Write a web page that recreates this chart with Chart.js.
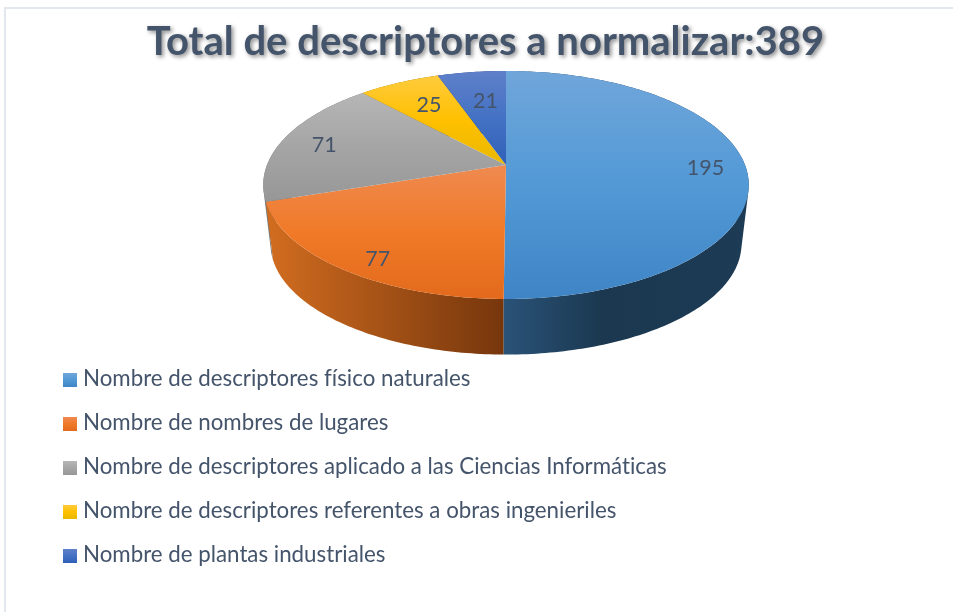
<!DOCTYPE html>
<html>
<head>
<meta charset="utf-8">
<title>Total de descriptores</title>
<script src="https://cdn.jsdelivr.net/npm/chart.js@4"></script>
<style>
  html, body { margin: 0; background: #fff; overflow: hidden; }
  #wrap { position: relative; width: 953px; height: 612px; }
  #frame { position: absolute; left: 4px; top: 7px; right: 0; bottom: 0; border-left: 2px solid #e3e8ef; border-top: 2px solid #e3e8ef; }
  canvas { position: absolute; left: 0; top: 0; }
  #legend { position: absolute; left: 63px; top: 356px; margin: 0; padding: 0; list-style: none;
    font: 22.3px Lato, sans-serif; font-variant-ligatures: none; color: #44546a; }
  #legend li { height: 44px; line-height: 44px; white-space: nowrap; }
  #legend i { display: inline-block; width: 14px; height: 14px; margin-right: 6px; vertical-align: -1px; }
</style>
</head>
<body>
<div id="wrap">
  <div id="frame"></div>
  <canvas id="pie" width="953" height="612"></canvas>
  <ul id="legend"></ul>
</div>
<script>
// datos
var categorias = [
  'Nombre de descriptores físico naturales',
  'Nombre de nombres de lugares',
  'Nombre de descriptores aplicado a las Ciencias Informáticas',
  'Nombre de descriptores referentes a obras ingenieriles',
  'Nombre de plantas industriales'
];
var valores = [195, 77, 71, 25, 21];
var titulo = 'Total de descriptores a normalizar:389';

// colores: cara superior (arriba, medio, abajo) y pared lateral (izquierda, derecha)
var colorBase = ['#5b9bd5', '#ed7d31', '#a5a5a5', '#ffc000', '#4472c4'];
var colorCara = [
  ['#70a6da', '#5299d6', '#3f85c6'],
  ['#ef8a50', '#f07a28', '#e36a1c'],
  ['#b6b6b6', '#a5a5a5', '#979797'],
  ['#ffcb3d', '#ffc000', '#e9b800'],
  ['#5f80c9', '#4472c4', '#2f5fb8']
];
var colorPared = [
  ['#2a5378', '#1b3850'],
  ['#d26d20', '#76360c'],
  ['#777777', '#666666'],
  ['#a07800', '#8f6b00'],
  ['#2a4a85', '#223c70']
];
// colocacion de las etiquetas de valor
var radioEtiqueta = [0.83, 0.84, 0.8, 0.7, 0.68];
var ajusteX = [1, 6, -3, 1, 4];
var ajusteY = [3, 9, 2, 0, 2];

// proyeccion en perspectiva del disco unidad a la pagina
var cx = 506, apiceY = 165, radio = 239, a = 81.55, k = -0.1754;
function proyecta(x, y) {
  var w = 1 + k * y;
  return { x: cx + radio * x / w, y: (a * y + apiceY) / w };
}
// el borde inferior de la pared es el mismo contorno, algo mas pequeño y bajado
function baja(p) {
  return { x: cx + (p.x - cx) * 0.97, y: 244 + (p.y - 185) * 0.97 };
}
function contorno(ini, fin) {
  var pts = [], n = Math.max(4, Math.ceil((fin - ini) * 60));
  for (var i = 0; i <= n; i++) {
    var t = ini + (fin - ini) * i / n;
    pts.push(proyecta(Math.cos(t), Math.sin(t)));
  }
  return pts;
}

var pie3d = {
  id: 'pie3d',
  beforeDraw: function (chart) {
    // sombra del titulo
    var ctx = chart.ctx;
    ctx.shadowColor = 'rgba(0,0,0,0.45)';
    ctx.shadowBlur = 4;
    ctx.shadowOffsetX = 2;
    ctx.shadowOffsetY = 2;
  },
  beforeDatasetDraw: function (chart, args) {
    var ctx = chart.ctx;
    var arcos = args.meta.data;
    ctx.shadowColor = 'transparent';
    ctx.shadowBlur = 0;
    ctx.shadowOffsetX = 0;
    ctx.shadowOffsetY = 0;

    // paredes: todos los tramos en un solo trazado para que no queden rayas
    arcos.map(function (arco, i) { return i; }).reverse().forEach(function (i) {
      var pts = contorno(arcos[i].startAngle, arcos[i].endAngle);
      var xs = pts.map(function (p) { return p.x; });
      var g = ctx.createLinearGradient(Math.min.apply(null, xs), 0, Math.max.apply(null, xs), 0);
      g.addColorStop(0, colorPared[i][0]);
      g.addColorStop(i === 0 ? 0.4 : 1, colorPared[i][1]);
      if (i === 0) g.addColorStop(1, '#1e3b56');
      ctx.beginPath();
      for (var j = 0; j < pts.length - 1; j++) {
        var b0 = baja(pts[j]), b1 = baja(pts[j + 1]);
        // mismo sentido de giro en cada tramo
        var area = (pts[j + 1].x - pts[j].x) * (b0.y - pts[j].y) - (pts[j + 1].y - pts[j].y) * (b0.x - pts[j].x);
        var quad = [pts[j], pts[j + 1], b1, b0];
        if (area < 0) quad.reverse();
        ctx.moveTo(quad[0].x, quad[0].y);
        ctx.lineTo(quad[1].x, quad[1].y);
        ctx.lineTo(quad[2].x, quad[2].y);
        ctx.lineTo(quad[3].x, quad[3].y);
        ctx.closePath();
      }
      ctx.fillStyle = g;
      ctx.fill();
    });

    // caras superiores
    arcos.forEach(function (arco, i) {
      var pts = contorno(arco.startAngle, arco.endAngle);
      var centro = proyecta(0, 0);
      var ys = pts.map(function (p) { return p.y; }).concat(centro.y);
      var g = ctx.createLinearGradient(0, Math.min.apply(null, ys), 0, Math.max.apply(null, ys));
      g.addColorStop(0, colorCara[i][0]);
      g.addColorStop(0.5, colorCara[i][1]);
      g.addColorStop(1, colorCara[i][2]);
      ctx.beginPath();
      ctx.moveTo(centro.x, centro.y);
      pts.forEach(function (p) { ctx.lineTo(p.x, p.y); });
      ctx.closePath();
      ctx.fillStyle = g;
      ctx.fill();
    });

    // etiquetas de valor
    ctx.font = '21.5px Lato, sans-serif';
    ctx.fillStyle = '#44546a';
    ctx.textAlign = 'center';
    ctx.textBaseline = 'middle';
    arcos.forEach(function (arco, i) {
      var t = (arco.startAngle + arco.endAngle) / 2;
      var p = proyecta(Math.cos(t) * radioEtiqueta[i], Math.sin(t) * radioEtiqueta[i]);
      ctx.fillText(String(valores[i]), p.x + ajusteX[i], p.y + ajusteY[i]);
    });
    return false;
  }
};

var grafico = new Chart(document.getElementById('pie').getContext('2d'), {
  type: 'pie',
  data: {
    labels: categorias,
    datasets: [{ data: valores, backgroundColor: colorBase, borderWidth: 0 }]
  },
  options: {
    responsive: false,
    animation: false,
    layout: { padding: { left: 18 } },
    plugins: {
      legend: { display: false },
      tooltip: { enabled: false },
      title: {
        display: true,
        text: titulo,
        color: '#44546a',
        font: { family: 'Lato, sans-serif', size: 40, weight: 'bold' },
        padding: { top: 18, bottom: 10 }
      }
    }
  },
  plugins: [pie3d]
});

// leyenda en HTML a partir de las etiquetas del grafico
document.getElementById('legend').innerHTML = grafico.data.labels.map(function (txt, i) {
  var c = colorCara[i];
  return '<li><i style="background:linear-gradient(' + c[0] + ',' + c[1] + ' 50%,' + c[2] + ')"></i>' + txt + '</li>';
}).join('');
</script>
</body>
</html>
